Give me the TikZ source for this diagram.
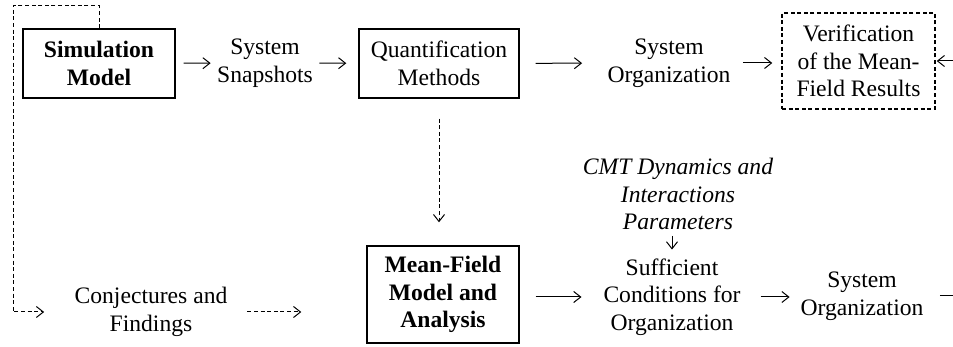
\documentclass[tikz,border=0pt]{standalone}
\usepackage{fontspec}
\setmainfont{Liberation Serif}
\usetikzlibrary{arrows.meta}

\begin{document}
\fontsize{11.8}{13.8}\selectfont
\begin{tikzpicture}[x=0.5pt,y=-0.5pt,line width=0.5pt,
  >={Straight Barb[length=3.5pt,width=5.5pt]},
  every node/.style={align=center,inner sep=0pt},
  box/.style={draw,line width=0.7pt,minimum width=76pt,minimum height=34.5pt},
  dashline/.style={dash pattern=on 2pt off 1.3pt}]
\useasboundingbox (0,0) rectangle (953,347);
\clip (0,0) rectangle (953,347);

\node[box,font=\bfseries] (sim) at (99,63.5) {Simulation\\Model};
\node (snap) at (265,63) {System\\Snapshots};
\node[box,minimum width=80pt] (quant) at (439,63.5) {Quantification\\Methods};
\node (org) at (669,63) {System\\Organization};
\node[box,dashline,minimum width=76.5pt,minimum height=48pt] (verif) at (858.5,61) {Verification\\of the Mean-\\Field Results};

\node (conj) at (151,312) {Conjectures and\\Findings};
\node[box,font=\bfseries,minimum height=48.5pt] (mf) at (443,294.5) {Mean-Field\\Model and\\Analysis};
\node[font=\itshape] (cmt) at (678,194) {CMT Dynamics and\\Interactions\\Parameters};
\node (suff) at (672,297) {Sufficient\\Conditions for\\Organization};
\node (sysorg) at (862,296) {System\\Organization};
\coordinate (tl) at (13,6);
\coordinate (rr) at (975,296);

\draw[->,shorten <=4pt,shorten >=3pt] (sim) -- (snap);
\draw[->,shorten <=3pt,shorten >=6pt] (snap) -- (quant);
\draw[->,shorten <=8pt,shorten >=12.5pt] (quant) -- (org);
\draw[->,shorten <=6pt,shorten >=4.5pt] (org.east) -- (org.east -| verif.west);
\draw[->,shorten <=8pt,shorten >=10.75pt] (mf.east |- suff.west) -- (suff.west);
\draw[->,shorten <=9.75pt,shorten >=5.25pt] (suff.east) -- (suff.east -| sysorg.west);
\draw[->,shorten <=2.75pt,shorten >=4.25pt] (suff.north |- cmt.south) -- (suff.north);
\draw[->,shorten <=8pt,shorten >=0.5pt] (sysorg.east) -- (rr) |- (verif.east);

\draw[dashline,->,shorten >=15pt] (sim.north) |- (tl) |- (conj.west);
\draw[dashline,->,shorten <=9.8pt,shorten >=32.5pt] (conj.east) -- (conj.east -| mf.west);
\draw[dashline,->,shorten <=10pt,shorten >=11.5pt] (quant.south) -- (quant.south |- mf.north);
\end{tikzpicture}
\end{document}
